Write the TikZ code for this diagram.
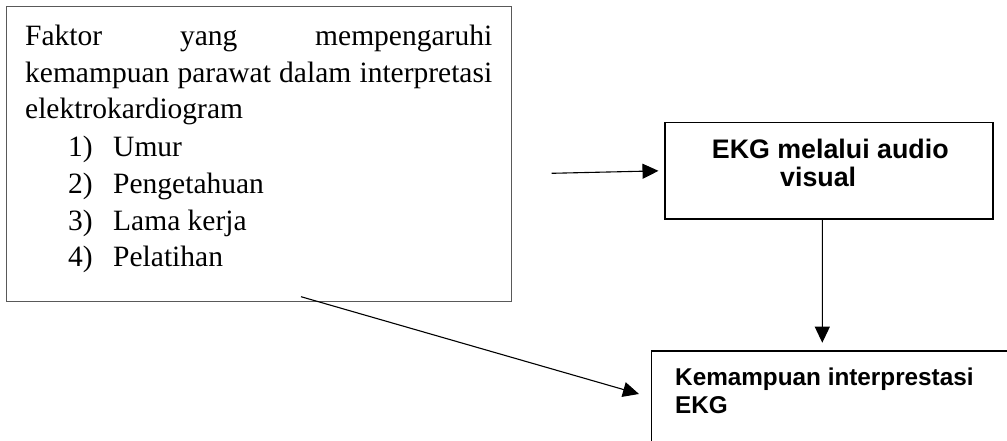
\documentclass[tikz,border=0pt]{standalone}
\usepackage{fontspec}
\setmainfont{Liberation Serif}
\newfontfamily\arialf{Liberation Sans}
\usetikzlibrary{arrows.meta,calc}
\begin{document}
\begin{tikzpicture}[x=1pt,y=-1pt,
  serif/.style={anchor=base west,inner sep=0pt,font=\fontsize{29.5}{35}\selectfont},
  sansA/.style={anchor=base west,inner sep=0pt,font=\arialf\bfseries\fontsize{26.8}{32}\selectfont},
  sansB/.style={anchor=base west,inner sep=0pt,font=\arialf\bfseries\fontsize{24.3}{29}\selectfont},
  arr/.style={line width=1.1pt,-{Triangle[length=16pt,width=15pt]}},
  frame/.style={draw,line width=1.6pt,inner sep=0pt}]
\useasboundingbox (0,0) rectangle (1007,441);
\fill[white] (0,0) rectangle (1007,441);
\clip (0,0) rectangle (1007,441);
% box 1
\draw[black!65,line width=1pt] (6.7,6.7) rectangle (511,301);
\node[serif] (l1) at (25,45.7) {\makebox[467pt][s]{Faktor\hfill yang\hfill mempengaruhi}};
\node[serif] (l2) at (25,82.3) {\makebox[467pt][s]{kemampuan parawat dalam interpretasi}};
\node[serif] (l3) at (25,118.3) {elektrokardiogram};
\node[serif] (n1) at (68,156.7) {1)};
\node[serif] (t1) at (113,156.7) {Umur};
\node[serif] (n2) at (68,193.3) {2)};
\node[serif] (t2) at (113,193.3) {Pengetahuan};
\node[serif] (n3) at (68,230) {3)};
\node[serif] (t3) at (113,230) {Lama kerja};
\node[serif] (n4) at (68,266.7) {4)};
\node[serif] (t4) at (113,266.7) {Pelatihan};
% box 2
\node[frame,minimum width=327.7pt,minimum height=96.3pt] (box2) at (828.85,170.85) {};
\node[sansA] (b2a) at (711.7,158.3) {EKG melalui audio};
\node[sansA] (b2b) at (780,186.7) {visual};
% box 3
\draw[line width=1.6pt] (1020,350.7) -- (651.5,350.7) -- (651.5,460);
\coordinate (box3nw) at (651.5,350.7);
\node[sansB] (b3a) at (675,385) {Kemampuan interprestasi};
\node[sansB] (b3b) at (675,413.3) {EKG};
% connectors
\coordinate (a1s) at (551.7,173.3);
\coordinate (a1e) at ($(box2.west)+(-5.7,0)$);
\draw[arr] (a1s) -- (a1e);
\coordinate (a2s) at ($(box2.south)+(-6.5,0)$);
\coordinate (a2e) at ($(box3nw)+(170.8,-8)$);
\draw[arr] (a2s) -- (a2e);
\coordinate (a3s) at (301,296.7);
\coordinate (a3e) at ($(box3nw)+(-12.5,43.3)$);
\draw[arr] (a3s) -- (a3e);
\end{tikzpicture}
\end{document}
